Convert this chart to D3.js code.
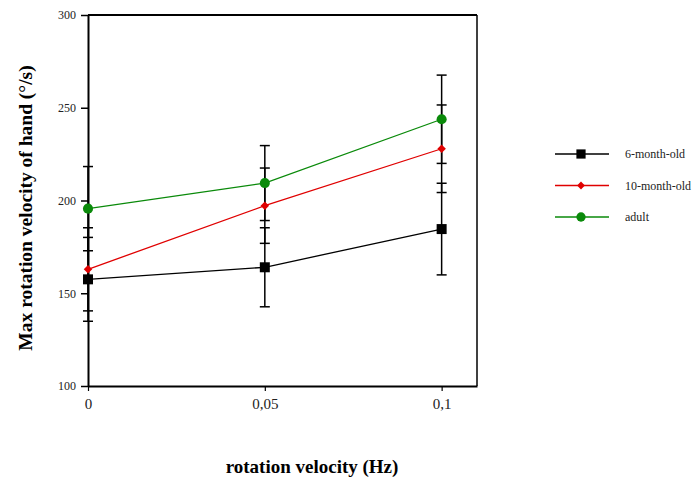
<!DOCTYPE html>
<html>
<head>
<meta charset="utf-8">
<script src="https://cdn.jsdelivr.net/npm/d3@7"></script>
<style>
  body { margin: 0; background: #fff; }
</style>
</head>
<body>
<svg id="chart" width="692" height="483"></svg>
<script>
// --- Data ---
const velocities = [0, 0.05, 0.1];
const velocityLabels = ["0", "0,05", "0,1"];
const yTicks = [100, 150, 200, 250, 300];

const sixMonth = [157.5, 164.0, 184.6];
const sixMonthErr = [22.6, 21.3, 24.7];
const tenMonth = [162.9, 197.2, 227.9];
const tenMonthErr = [22.4, 20.3, 23.6];
const adult = [195.6, 209.4, 243.8];
const adultErr = [22.7, 20.2, 23.8];

const serif = "'Liberation Serif', 'Times New Roman', serif";

const series = [
    { name: "6-month-old", values: sixMonth, err: sixMonthErr, color: "#000", shape: d3.symbolSquare, size: 100, rot: 0 },
    { name: "10-month-old", values: tenMonth, err: tenMonthErr, color: "#e00000", shape: d3.symbolSquare, size: 36, rot: 45 },
    { name: "adult", values: adult, err: adultErr, color: "#0a8a0a", shape: d3.symbolCircle, size: 80, rot: 0 }
];

// --- Layout ---
const svg = d3.select("#chart");
const plotLeft = 88, plotRight = 477, plotTop = 15, plotBottom = 386;

const x = d3.scaleLinear().domain([0, 0.11]).range([plotLeft, plotRight]);
const y = d3.scaleLinear().domain([100, 300]).range([plotBottom, plotTop]);

// --- Frame (top and right) ---
svg.append("line")
    .attr("x1", plotLeft).attr("x2", plotRight).attr("y1", plotTop).attr("y2", plotTop)
    .attr("stroke", "#000").attr("stroke-width", 2);
svg.append("line")
    .attr("x1", plotRight).attr("x2", plotRight).attr("y1", plotTop).attr("y2", plotBottom)
    .attr("stroke", "#000").attr("stroke-width", 1.5);

// --- Axes ---
const yAxis = svg.append("g")
    .attr("transform", `translate(${plotLeft},0)`)
    .call(d3.axisLeft(y).tickValues(yTicks).tickSize(7).tickSizeOuter(0).tickPadding(5));
yAxis.select(".domain").attr("stroke-width", 2);
yAxis.selectAll(".tick line").attr("stroke-width", 1.5);
yAxis.selectAll("text")
    .style("font-family", serif).style("font-size", "12px").attr("fill", "#222");

const xAxis = svg.append("g")
    .attr("transform", `translate(0,${plotBottom})`)
    .call(d3.axisBottom(x).tickValues(velocities).tickFormat((d, i) => velocityLabels[i])
        .tickSize(5).tickSizeOuter(0).tickPadding(7));
xAxis.select(".domain").attr("stroke-width", 2);
xAxis.selectAll(".tick line").attr("stroke-width", 1.2);
xAxis.selectAll("text")
    .style("font-family", serif).style("font-size", "15px").attr("fill", "#222");

// --- Error bars ---
const errG = svg.append("g");
series.forEach(s => {
    s.values.forEach((v, i) => {
        const cx = x(velocities[i]);
        errG.append("line")
            .attr("x1", cx).attr("x2", cx)
            .attr("y1", y(v - s.err[i])).attr("y2", y(v + s.err[i]))
            .attr("stroke", "#000").attr("stroke-width", 1.5);
        [v - s.err[i], v + s.err[i]].forEach(e => {
            errG.append("line")
                .attr("x1", cx - 5).attr("x2", cx + 5)
                .attr("y1", y(e)).attr("y2", y(e))
                .attr("stroke", "#000").attr("stroke-width", 1.5);
        });
    });
});

// --- Lines and markers ---
const line = d3.line().x((d, i) => x(velocities[i])).y(d => y(d));
series.forEach(s => {
    svg.append("path")
        .attr("d", line(s.values))
        .attr("fill", "none")
        .attr("stroke", s.color)
        .attr("stroke-width", 1.3);
    svg.append("g").selectAll("path")
        .data(s.values)
        .join("path")
        .attr("transform", (d, i) => `translate(${x(velocities[i])},${y(d)}) rotate(${s.rot})`)
        .attr("d", d3.symbol().type(s.shape).size(s.size))
        .attr("fill", s.color);
});

// --- Axis titles ---
svg.append("text")
    .attr("transform", "translate(32,208) rotate(-90)")
    .attr("text-anchor", "middle")
    .style("font-family", serif)
    .style("font-size", "19.5px")
    .style("font-weight", "bold")
    .text("Max rotation velocity of hand (°/s)");

svg.append("text")
    .attr("x", 312).attr("y", 473)
    .attr("text-anchor", "middle")
    .style("font-family", serif)
    .style("font-size", "19px")
    .style("font-weight", "bold")
    .text("rotation velocity (Hz)");

// --- Legend ---
const legend = svg.append("g").attr("transform", "translate(555,154)");
series.forEach((s, i) => {
    const g = legend.append("g").attr("transform", `translate(0,${i * 31.5})`);
    g.append("line").attr("x1", 0).attr("x2", 54).attr("y1", 0).attr("y2", 0)
        .attr("stroke", s.color).attr("stroke-width", 1.3);
    g.append("path").attr("transform", `translate(26,0) rotate(${s.rot})`)
        .attr("d", d3.symbol().type(s.shape).size(s.size * 0.85))
        .attr("fill", s.color);
    g.append("text").attr("x", 70).attr("y", 4)
        .style("font-family", serif).style("font-size", "12px").attr("fill", "#222")
        .text(s.name);
});
</script>
</body>
</html>
